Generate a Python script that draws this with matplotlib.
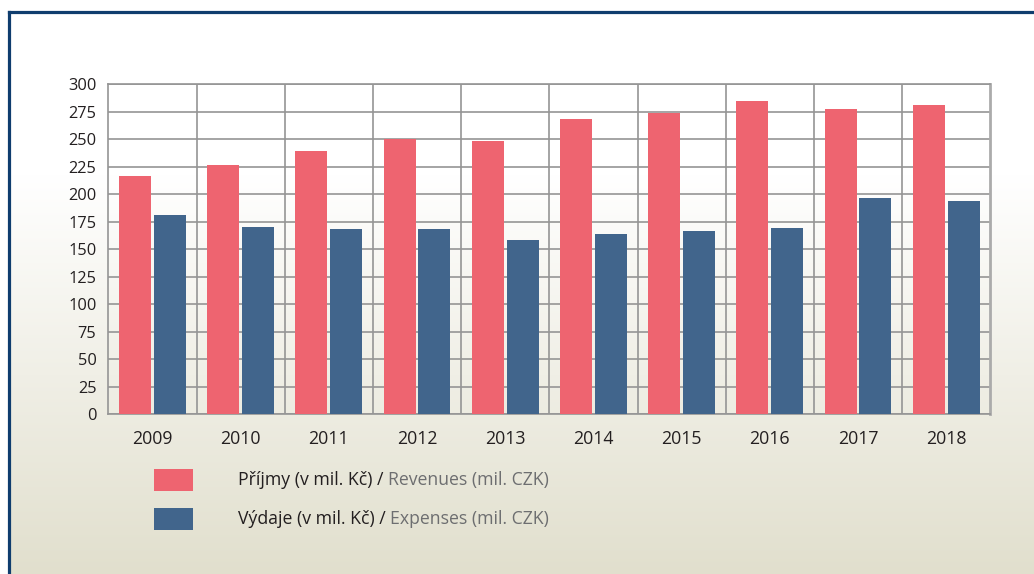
import matplotlib
matplotlib.use("Agg")
import matplotlib.pyplot as plt
import numpy as np
from matplotlib.patches import Rectangle

# Annual budget figures, in millions of CZK
years = ["2009", "2010", "2011", "2012", "2013", "2014", "2015", "2016", "2017", "2018"]
revenues = [216, 226, 239, 250, 248.5, 268.5, 274, 285, 277.5, 281]
expenses = [181, 170, 168, 168, 158.5, 164, 166.5, 169.5, 196.5, 194]
yticks = list(range(0, 301, 25))

legend_czech = ["Příjmy (v mil. Kč) / ", "Výdaje (v mil. Kč) / "]
legend_english = ["Revenues (mil. CZK)", "Expenses (mil. CZK)"]

RED = "#ee6470"
BLUE = "#41658c"
NAVY = "#0f3d6e"
GRID = "#959595"

plt.rcParams["font.family"] = ["Open Sans", "DejaVu Sans"]

W, H = 1034, 574
fig = plt.figure(figsize=(W / 100, H / 100), dpi=100)
fig.patch.set_facecolor("white")

# Background layer in pixel coordinates: gradient panel and framing lines
bg = fig.add_axes([0, 0, 1, 1], zorder=0)
bg.set_xlim(0, W)
bg.set_ylim(H, 0)
bg.axis("off")

ys = np.arange(H)
top_col = np.array([1.0, 1.0, 1.0])
bot_col = np.array([0xe1, 0xdf, 0xcd]) / 255.0
t = np.clip((ys - 175) / (H - 175), 0, 1)[:, None]
col = top_col * (1 - t) + bot_col * t
img = np.repeat(col[:, None, :], 2, axis=1)
bg.imshow(img, extent=[8.7, W, H, 0], aspect="auto", interpolation="bilinear")
bg.set_xlim(0, W)
bg.set_ylim(H, 0)
bg.plot([8.7, 8.7], [H, 11.7], color=NAVY, lw=2.3, solid_capstyle="projecting")
bg.plot([8.7, W], [11.7, 11.7], color=NAVY, lw=2.3, solid_capstyle="projecting")

# Legend
legend_y = [480, 519]
for i, (c, cz, en) in enumerate(zip([RED, BLUE], legend_czech, legend_english)):
    yc = legend_y[i]
    bg.add_patch(Rectangle((154, yc - 11), 39, 22, facecolor=c, edgecolor="none"))
    t1 = bg.text(238, yc, cz, fontsize=12.7, color="#231f20", va="center", ha="left")
    bg.annotate(en, xy=(1, 0), xycoords=t1, va="bottom", ha="left",
                fontsize=12.7, color="#6d6e70")

# Main chart
left, right = 108.3 / W, 990.3 / W
bottom, top = 1 - 414.3 / H, 1 - 84 / H
ax = fig.add_axes([left, bottom, right - left, top - bottom], zorder=1)
ax.set_facecolor("none")

x = np.arange(len(years))
w = 0.363
off = 0.198
ax.bar(x - off, revenues, w, color=RED, zorder=3)
ax.bar(x + off, expenses, w, color=BLUE, zorder=3)

ax.set_xlim(-0.5, len(years) - 0.5)
ax.set_ylim(0, 300)
ax.set_yticks(yticks)
ax.set_xticks(x, years)
ax.set_xticks(np.arange(0.5, len(years) - 0.5, 1), minor=True)
ax.yaxis.grid(True, color=GRID, lw=1.2, zorder=1)
ax.xaxis.grid(True, which="minor", color=GRID, lw=1.2, zorder=1)
ax.set_axisbelow(True)
ax.tick_params(which="both", length=0)
ax.tick_params(axis="y", pad=8.5, labelsize=11.8, labelcolor="#231f20")
ax.tick_params(axis="x", pad=11, labelsize=12.8, labelcolor="#231f20")

for s in ["left", "bottom", "top"]:
    ax.spines[s].set_color(GRID)
    ax.spines[s].set_linewidth(1.2)
ax.spines["right"].set_color("#ababab")
ax.spines["right"].set_linewidth(2)

fig.savefig("out.png", dpi=100)
